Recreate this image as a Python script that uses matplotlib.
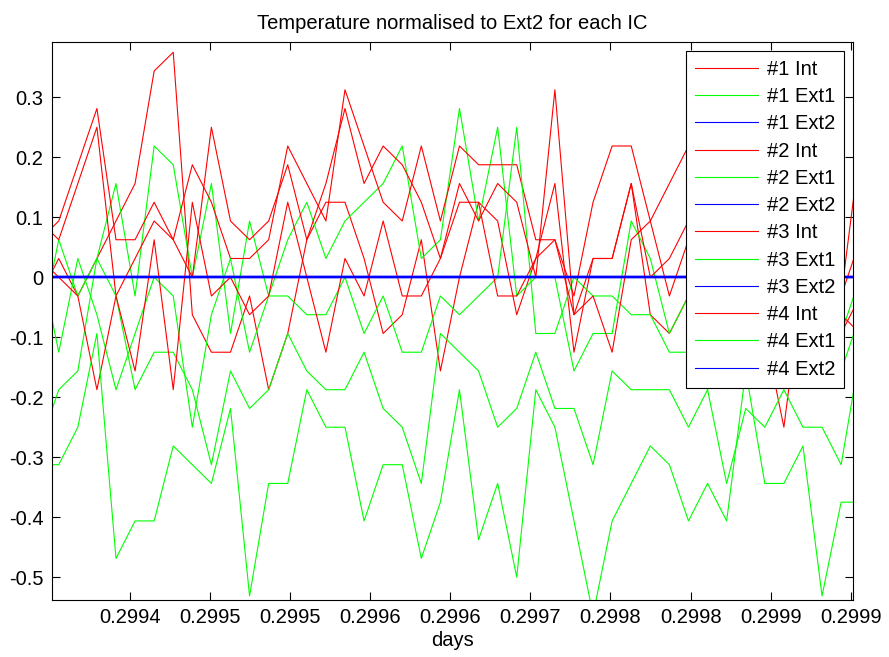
import numpy as np
import matplotlib
matplotlib.use("Agg")
import matplotlib.pyplot as plt

plt.rcParams['font.family'] = ['Liberation Sans', 'DejaVu Sans']
plt.rcParams['axes.unicode_minus'] = False

# sample times in days, one reading about every second
T0 = 0.2993557
DT = 1.1908e-5
sample = np.arange(-1, 43)
days = T0 + DT * sample

# readings, in steps of 1/32 degree, normalised to Ext2 of the same IC
int_1 = np.array([-1, 1, -1, 1, 3, 5, 11, 12, -2, -4, -4, -1, -6, -3, 2, 4, 4, 1, -3, -2,
                  2, -5, 0, 4, 3, -2, 1, 5, -4, 1, 1, 5, -2, -3, -1, 3, 6, 2, -3, -8,
                  0, 4, -1, 7]) / 32
int_2 = np.array([2, 3, 6, 9, 2, 2, 4, 2, 6, 4, 1, 1, 2, 7, 5, 3, 10, 7, 4, 3,
                  7, 3, 7, 6, 6, 6, 2, 2, -1, 4, 7, 7, 3, 5, 7, 4, 2, 5, 3, 6,
                  2, 0, -1, 2]) / 32
int_3 = np.array([3, 2, 5, 8, -1, 1, 3, 2, 0, 8, 3, 2, 3, 6, 2, 5, 9, 5, 7, 6,
                  4, 1, 5, 3, 5, 4, 0, 10, -2, -1, -4, 2, 3, -1, 2, -2, 1, 4, 0, 2,
                  -3, 1, -3, -1]) / 32
int_4 = np.array([1, 0, -1, -6, -1, -5, 2, -6, 4, -1, 0, -2, -1, 4, 0, -4, 1, -1, 3, -1,
                  -1, 1, 4, 4, -1, -1, 1, 2, -2, 1, 1, 5, 0, 1, 3, 5, -1, 0, 2, -2,
                  4, -4, -2, -3]) / 32

ext1_1 = np.array([-3, 2, -1, 1, 5, -1, 7, 6, 0, 5, -3, 3, -1, 2, 4, 1, 3, 4, 5, 7,
                   1, 2, 9, 3, 8, -1, 0, 0, -5, -3, -3, 3, 1, -3, -1, 2, -2, 1, -4, 0,
                   -2, 1, -3, 0]) / 32
ext1_2 = np.array([1, -4, 1, -2, -6, -3, 0, -1, -8, -2, 1, -4, -1, -1, -2, -2, 0, -3, -1, -4,
                   -4, -1, -2, -1, 0, 8, -3, -3, 0, -1, -1, -2, -2, -4, -4, -6, -3, -5, -2, -5,
                   -3, -5, -5, -2]) / 32
ext1_3 = np.array([-9, -6, -5, 1, -1, -6, -4, -4, -6, -10, -5, -7, -6, -3, -5, -6, -6, -4, -7, -8,
                   -11, -3, -4, -5, -8, -7, -4, -7, -7, -10, -5, -6, -6, -6, -8, -6, -11, -7, -8, -6,
                   -8, -8, -10, -4]) / 32
ext1_4 = np.array([-10, -10, -8, -3, -15, -13, -13, -9, -10, -11, -7, -17, -11, -11, -6, -8, -8, -13, -10, -10,
                   -15, -12, -6, -14, -11, -16, -6, -8, -13, -18, -13, -11, -9, -10, -13, -11, -13, -5, -11, -11,
                   -9, -17, -12, -12]) / 32

# Ext2 normalised to itself is zero everywhere
ext2 = np.zeros(len(days))

series = [
    ('#1', int_1, ext1_1),
    ('#2', int_2, ext1_2),
    ('#3', int_3, ext1_3),
    ('#4', int_4, ext1_4),
]

xtick_labels = ['0.2994', '0.2995', '0.2995', '0.2996', '0.2996',
                '0.2997', '0.2998', '0.2998', '0.2999', '0.2999']
yticks = [-0.5, -0.4, -0.3, -0.2, -0.1, 0, 0.1, 0.2, 0.3]

fs = 14.5
fig = plt.figure(figsize=(8.89, 6.57), dpi=100)
ax = fig.add_axes([0.0582, 0.0868, 0.9017, 0.8498])

for name, t_int, t_ext1 in series:
    ax.plot(days, t_int, color=(1, 0, 0), lw=0.8, label=name + ' Int')
    ax.plot(days, t_ext1, color=(0, 1, 0), lw=0.8, label=name + ' Ext1')
    ax.plot(days, ext2, color=(0, 0, 1), lw=1.6, label=name + ' Ext2')

ax.set_xlim(T0 - 0.367 * DT, T0 + 41.64 * DT)
ax.set_ylim(-0.538, 0.3927)
xticks = 0.29940 + 0.00005 * np.arange(len(xtick_labels))
ax.set_xticks(xticks)
ax.set_xticklabels(xtick_labels)
ax.set_yticks(yticks)
ax.set_yticklabels(['%g' % v for v in yticks])
ax.tick_params(direction='in', top=True, right=True, length=6, width=0.8,
               labelsize=fs, pad=6)
for sp in ax.spines.values():
    sp.set_linewidth(0.8)
    sp.set_color('black')

ax.set_title('Temperature normalised to Ext2 for each IC', fontsize=fs, pad=9)
ax.set_xlabel('days', fontsize=fs, labelpad=3)

leg = ax.legend(loc='upper right', fontsize=fs, fancybox=False, edgecolor='black',
                framealpha=1, handlelength=3.1, handletextpad=0.45, labelspacing=0.41,
                borderpad=0.45, borderaxespad=0.45)
leg.get_frame().set_linewidth(0.8)
for ln in leg.get_lines():
    ln.set_linewidth(0.8)

fig.savefig('out.png', dpi=100)
